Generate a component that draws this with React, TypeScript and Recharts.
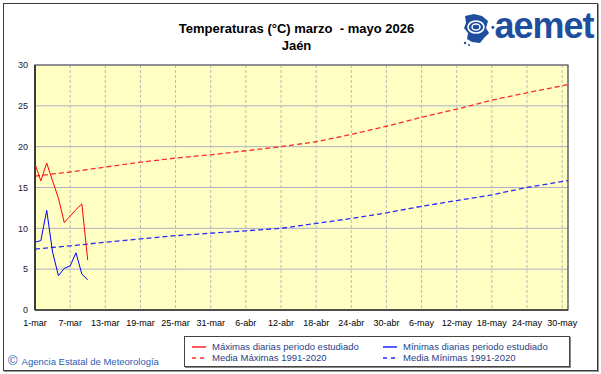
import {
  CartesianGrid,
  Line,
  LineChart,
  ReferenceArea,
  XAxis,
  YAxis,
} from 'recharts';

// days counted from 1-mar (index 0) up to 31-may (index 91)
const dailyDays = [0, 1, 2, 3, 4, 5, 6, 7, 8, 9];
const maxDaily = [17.9, 15.8, 18.0, 15.8, 13.7, 10.7, 11.5, 12.3, 13.0, 6.1];
const minDaily = [8.3, 8.5, 12.2, 7.1, 4.2, 5.1, 5.4, 7.0, 4.4, 3.7];

const normalDays = [0, 6, 12, 18, 24, 30, 36, 42, 48, 54, 60, 66, 72, 78, 84, 91];
const normalMax = [16.4, 16.9, 17.5, 18.1, 18.6, 19.0, 19.5, 20.0, 20.6, 21.5, 22.5, 23.6, 24.6, 25.7, 26.6, 27.6];
const normalMin = [7.45, 7.85, 8.3, 8.7, 9.1, 9.4, 9.7, 10.0, 10.6, 11.2, 11.9, 12.7, 13.4, 14.1, 15.0, 15.85];

const xTicks = [0, 6, 12, 18, 24, 30, 36, 42, 48, 54, 60, 66, 72, 78, 84, 90];
const xLabels = [
  '1-mar', '7-mar', '13-mar', '19-mar', '25-mar', '31-mar', '6-abr', '12-abr',
  '18-abr', '24-abr', '30-abr', '6-may', '12-may', '18-may', '24-may', '30-may',
];
const yTicks = [0, 5, 10, 15, 20, 25, 30];

const RED = '#ff0000';
const BLUE = '#0000ff';
const TEXT_BLUE = '#1f3f86';
const FONT = '"Liberation Sans", Arial, sans-serif';

type Row = { day: number; max?: number; min?: number; nmax?: number; nmin?: number };

function buildRows(): Row[] {
  const byDay = new Map<number, Row>();
  const get = (d: number) => {
    if (!byDay.has(d)) byDay.set(d, { day: d });
    return byDay.get(d)!;
  };
  dailyDays.forEach((d, i) => {
    get(d).max = maxDaily[i];
    get(d).min = minDaily[i];
  });
  normalDays.forEach((d, i) => {
    get(d).nmax = normalMax[i];
    get(d).nmin = normalMin[i];
  });
  return [...byDay.values()].sort((a, b) => a.day - b.day);
}

const rows = buildRows();

function LegendItem({ color, dashed, label }: { color: string; dashed?: boolean; label: string }) {
  return (
    <div style={{ display: 'flex', alignItems: 'center', height: 11 }}>
      <svg width={15} height={6} style={{ marginRight: 5 }}>
        <line
          x1={0}
          y1={3}
          x2={14}
          y2={3}
          stroke={color}
          strokeWidth={1.3}
          strokeDasharray={dashed ? '4 4' : undefined}
        />
      </svg>
      <span>{label}</span>
    </div>
  );
}

function Logo() {
  return (
    <div style={{ position: 'absolute', left: 462, top: 12, display: 'flex', alignItems: 'center' }}>
      <svg width={28} height={34} viewBox="0 0 28 34">
        <path
          d="M3 4 L12 2 L20 4 L26 9 L24 16 L27 21 L22 26 L18 31 L10 30 L5 27 L6 21 L2 16 L4 11 Z"
          fill="#1f4e9e"
        />
        <ellipse cx={14} cy={15} rx={8} ry={6} fill="none" stroke="#fff" strokeWidth={1.6} />
        <ellipse cx={14} cy={15} rx={4} ry={3} fill="none" stroke="#fff" strokeWidth={1.4} />
        <circle cx={3} cy={31} r={1.2} fill="#1f4e9e" />
        <circle cx={7} cy={33} r={1} fill="#1f4e9e" />
      </svg>
      <div
        style={{
          fontFamily: FONT,
          fontWeight: 700,
          fontSize: 36,
          color: '#1f4e9e',
          letterSpacing: -1,
          lineHeight: '34px',
          marginLeft: 1,
          marginTop: -4,
        }}
      >
        <span style={{ fontSize: 10, verticalAlign: 'middle', marginRight: 1 }}>•</span>aemet
      </div>
    </div>
  );
}

export default function App() {
  return (
    <div style={{ position: 'absolute', left: 0, top: 0, width: 601, height: 374, background: '#fff' }}>
      <div
        style={{
          position: 'absolute',
          left: 3,
          top: 3,
          width: 593,
          height: 366,
          border: '1px solid #3a3a3a',
          boxShadow: '1px 1px 0 #999',
        }}
      />
      <div
        style={{
          position: 'absolute',
          left: -4,
          top: 20,
          width: 601,
          textAlign: 'center',
          fontFamily: FONT,
          fontWeight: 700,
          fontSize: 13,
          lineHeight: '17px',
          color: '#000',
        }}
      >
        <div>Temperaturas (°C) marzo&nbsp; - mayo 2026</div>
        <div>Jaén</div>
      </div>
      <Logo />
      <div style={{ position: 'absolute', left: 0, top: 0 }}>
        <LineChart
          width={601}
          height={374}
          data={rows}
          margin={{ top: 65, right: 33, bottom: 34, left: 1 }}
        >
          <CartesianGrid fill="#ffffc4" vertical={false} stroke="#afafc6" />
          <CartesianGrid horizontal={false} stroke="#b8b8b8" strokeDasharray="3 2" />
          <XAxis
            dataKey="day"
            type="number"
            domain={[0, 91]}
            ticks={xTicks}
            tickFormatter={(v: number) => xLabels[xTicks.indexOf(v)] ?? ''}
            tickLine={false}
            tickSize={6}
            tickMargin={4}
            interval={0}
            stroke="#3a3a3a"
            strokeWidth={1.5}
            tick={{ fill: '#000', fontSize: 9, fontFamily: FONT }}
          />
          <YAxis
            type="number"
            domain={[0, 30]}
            ticks={yTicks}
            width={34}
            tickLine={false}
            tickSize={4}
            tickMargin={3}
            interval={0}
            stroke="#3a3a3a"
            strokeWidth={2}
            tick={{ fill: '#1a1a3a', fontSize: 9, fontFamily: FONT }}
          />
          <ReferenceArea
            x1={0}
            x2={91}
            y1={0}
            y2={30}
            fill="none"
            stroke="#4a4a4a"
            strokeWidth={1.2}
            ifOverflow="visible"
          />
          <Line
            dataKey="nmax"
            stroke="#ff2a2a"
            strokeWidth={1.3}
            strokeDasharray="5 3"
            dot={false}
            connectNulls
            isAnimationActive={false}
          />
          <Line
            dataKey="nmin"
            stroke="#2a2aff"
            strokeWidth={1.3}
            strokeDasharray="5 3"
            dot={false}
            connectNulls
            isAnimationActive={false}
          />
          <Line
            dataKey="max"
            stroke={RED}
            strokeWidth={1}
            dot={false}
            connectNulls={false}
            isAnimationActive={false}
          />
          <Line
            dataKey="min"
            stroke={BLUE}
            strokeWidth={1}
            dot={false}
            connectNulls={false}
            isAnimationActive={false}
          />
        </LineChart>
      </div>
      <div
        style={{
          position: 'absolute',
          left: 8,
          top: 354,
          fontFamily: FONT,
          fontSize: 9.5,
          color: '#2a5cb4',
          display: 'flex',
          alignItems: 'center',
        }}
      >
        <span style={{ fontSize: 13, marginRight: 4, lineHeight: '14px' }}>©</span>
        <span>Agencia Estatal de Meteorología</span>
      </div>
      <div
        style={{
          position: 'absolute',
          left: 184,
          top: 336,
          width: 384,
          height: 29,
          border: '1px solid #444',
          boxShadow: '1px 1px 0 #888',
          background: '#fff',
          fontFamily: FONT,
          fontSize: 9.5,
          color: TEXT_BLUE,
        }}
      >
        <div style={{ position: 'absolute', left: 7, top: 4 }}>
          <LegendItem color={RED} label="Máximas diarias periodo estudiado" />
          <LegendItem color="#ff2a2a" dashed label="Media Máximas 1991-2020" />
        </div>
        <div style={{ position: 'absolute', left: 198, top: 4 }}>
          <LegendItem color={BLUE} label="Mínimas diarias periodo estudiado" />
          <LegendItem color="#2a2aff" dashed label="Media Mínimas 1991-2020" />
        </div>
      </div>
    </div>
  );
}
